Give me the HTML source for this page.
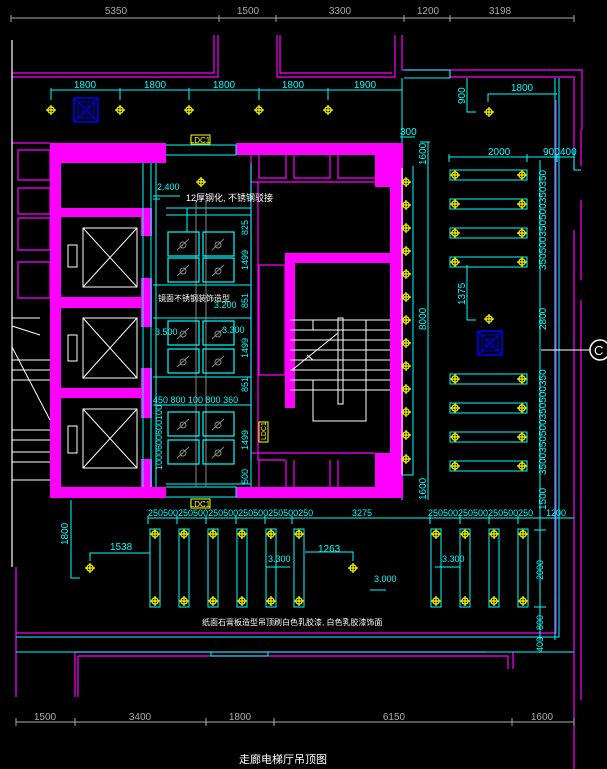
<!DOCTYPE html>
<html><head><meta charset="utf-8"><style>
html,body{margin:0;padding:0;background:#000;width:607px;height:769px;overflow:hidden}
svg{display:block}
text{font-family:"Liberation Sans","Noto Sans CJK SC",sans-serif}
</style></head><body>
<svg width="607" height="769" viewBox="0 0 607 769" xmlns="http://www.w3.org/2000/svg">
<defs>
<g id="lt"><circle r="3.2" fill="none" stroke="#ff0" stroke-width="1.2"/><path d="M-5 0H5M0-5V5" stroke="#ff0" stroke-width="1.2"/></g>
<g id="bsq"><rect x="0" y="0" width="24" height="24" fill="none" stroke="#00f" stroke-width="1.5"/><rect x="4" y="4" width="16" height="16" fill="none" stroke="#00f"/><rect x="8" y="8" width="8" height="8" fill="none" stroke="#00f"/><path d="M0 0L24 24M24 0L0 24" stroke="#00f"/></g>
<g id="pn"><rect x="0" y="0" width="31" height="24" fill="none" stroke="#0ff" stroke-width="1.2"/><circle cx="15" cy="13" r="3" fill="none" stroke="#888"/><path d="M9 18L21 7" stroke="#888"/></g>
</defs>
<g stroke="#aaa" fill="none"><path d="M11 18H574M11 15V22M219 15V22M276 15V22M404 15V22M450 15V22M574 15V22"/></g>
<g fill="#aaa" font-size="10" text-anchor="middle"><text x="116" y="14">5350</text><text x="248" y="14">1500</text><text x="340" y="14">3300</text><text x="428" y="14">1200</text><text x="500" y="14">3198</text></g>
<g stroke="#f0f" fill="none" stroke-width="1.2">
<path d="M214 35V73H12M218 35V77H12"/>
<path d="M277 35V77H395V35M280 35V73H392"/>
<path d="M402 35V70H582V130"/>
<path d="M450 70V77H574V150"/>
<path d="M12 143H50M574 150V170M574 230V769"/>
<path d="M581 130V166M581 200V280M581 300V700"/>
<path d="M16 633H556V100M16 567V697"/>
<path d="M75 652H486M78 656H508V669M75 652V697M78 656V697M513 652V669"/>
<path d="M18 150H50V180H18ZM18 188H50V214H18ZM18 218H50V250H18ZM18 262H50V298H18Z"/>
</g>
<path d="M12 40V567" stroke="#fff" stroke-width="1.2"/>
<g stroke="#0ff" fill="none">
<path d="M404 70H450V78H404M402 78V500"/>
<path d="M16 637H559V78M16 652H574M211 652V656H268V652"/>
<path d="M555 78V640M574 150V170H581"/>
</g>
<g stroke="#0ff" fill="none"><path d="M51 90H402M51 88V100M120 88V100M189 88V100M259 88V100M328 88V100"/></g>
<g fill="#0ff" font-size="10" text-anchor="middle"><text x="85" y="88">1800</text><text x="155" y="88">1800</text><text x="224" y="88">1800</text><text x="293" y="88">1800</text><text x="365" y="88">1900</text></g>
<use href="#lt" x="51" y="110"/><use href="#lt" x="120" y="110"/><use href="#lt" x="189" y="110"/><use href="#lt" x="259" y="110"/><use href="#lt" x="328" y="110"/>
<use href="#bsq" x="74" y="98"/>
<path d="M467 78V112H476M488 102V94H557" stroke="#0ff" fill="none"/>
<text x="0" y="0" fill="#0ff" font-size="10" transform="translate(465,104) rotate(-90)">900</text>
<text x="522" y="91" fill="#0ff" font-size="10" text-anchor="middle">1800</text>
<use href="#lt" x="489" y="112"/>
<rect x="191" y="135" width="19" height="9" fill="none" stroke="#ff0"/><text x="200" y="143" fill="#ff0" font-size="8" text-anchor="middle">LDC1</text>
<g fill="#f0f">
<rect x="50" y="143" width="116" height="20"/><rect x="236" y="143" width="167" height="12"/>
<rect x="50" y="143" width="11" height="355"/>
<rect x="50" y="208" width="101" height="9"/><rect x="50" y="297" width="101" height="11"/><rect x="50" y="388" width="101" height="10"/>
<rect x="141" y="208" width="11" height="28"/><rect x="141" y="278" width="11" height="49"/><rect x="141" y="368" width="11" height="50"/><rect x="141" y="459" width="11" height="39"/>
<rect x="50" y="487" width="116" height="11"/><rect x="236" y="487" width="167" height="11"/>
<rect x="375" y="143" width="28" height="44"/><rect x="390" y="187" width="13" height="310"/>
<rect x="285" y="253" width="10" height="155"/><rect x="285" y="253" width="118" height="10"/>
<rect x="375" y="453" width="28" height="44"/>
</g>
<g stroke="#0ff" fill="none"><path d="M166 145H236V155H166M166 487H236V497H166"/></g>
<rect x="191" y="499" width="19" height="9" fill="none" stroke="#ff0"/><text x="200" y="507" fill="#ff0" font-size="8" text-anchor="middle">LDC1</text>
<g stroke="#f0f" fill="none" stroke-width="1.2">
<path d="M251 155V182H375M259 155V178H286V155M294 155V178H330V155M338 155V178H375"/>
<path d="M251 182V460M258 182V460H285M259 265H285V375H259Z"/>
<path d="M251 453H375M259 460V487M286 460V487M294 460V487M330 460V487M338 460V487"/>
</g>
<g stroke="#fff" fill="none">
<rect x="83" y="228" width="54" height="59"/><path d="M83 228L137 287M137 228L83 287"/>
<rect x="83" y="318" width="54" height="60"/><path d="M83 318L137 378M137 318L83 378"/>
<rect x="83" y="409" width="54" height="59"/><path d="M83 409L137 468M137 409L83 468"/>
<rect x="68" y="245" width="9" height="22"/><rect x="68" y="335" width="9" height="26"/><rect x="68" y="426" width="9" height="27"/>
</g>
<g stroke="#0ff" fill="none">
<path d="M143 163V487M151 163V487M156 163V487M251 163V487M166 208H251M166 215H251M153 285H251M153 318H251M153 377H251M153 405H251M166 484H251"/>
<path d="M187 208V232M153 196H180M153 199H160"/>
</g>
<path d="M196 200V487M206 200V487" stroke="#888"/>
<use href="#pn" x="168" y="232"/><use href="#pn" x="203" y="232"/>
<use href="#pn" x="168" y="258"/><use href="#pn" x="203" y="258"/>
<use href="#pn" x="168" y="321"/><use href="#pn" x="203" y="321"/>
<use href="#pn" x="168" y="349"/><use href="#pn" x="203" y="349"/>
<use href="#pn" x="168" y="412"/><use href="#pn" x="203" y="412"/>
<use href="#pn" x="168" y="440"/><use href="#pn" x="203" y="440"/>
<use href="#lt" x="201" y="182"/>
<text x="157" y="190" fill="#0ff" font-size="9">2.400</text>
<text x="186" y="201" fill="#fff" font-size="9">12厚钢化, 不锈钢驳接</text>
<text x="158" y="301" fill="#fff" font-size="8">镜面不锈钢装饰造型</text>
<text x="214" y="308" fill="#0ff" font-size="9">3.200</text>
<text x="155" y="335" fill="#0ff" font-size="9">3.500</text>
<text x="222" y="333" fill="#0ff" font-size="9">3.300</text>
<text x="153" y="403" fill="#0ff" font-size="9">450  800 100  800  360</text>
<g fill="#0ff" font-size="9">
<text transform="translate(248,235) rotate(-90)">825</text>
<text transform="translate(248,270) rotate(-90)">1499</text>
<text transform="translate(248,308) rotate(-90)">851</text>
<text transform="translate(248,358) rotate(-90)">1499</text>
<text transform="translate(248,392) rotate(-90)">851</text>
<text transform="translate(248,450) rotate(-90)">1499</text>
<text transform="translate(248,484) rotate(-90)">500</text>
<text transform="translate(162,470) rotate(-90)">1000600600100</text>
</g>
<rect x="259" y="422" width="9" height="20" fill="none" stroke="#ff0"/><text transform="translate(266,440) rotate(-90)" fill="#ff0" font-size="7">LDC1</text>
<g stroke="#fff" fill="none">
<path d="M290 320H390M290 330H390M290 340H390M290 350H390M290 360H390M290 370H390M290 380H390M290 390H390"/>
<path d="M313 320V330M313 380V421H366V320"/>
<rect x="338" y="318" width="5" height="86"/>
<path d="M292 370L338 333M307 355L313 360"/>
<path d="M12 318H40M12 326L40 335M12 400V420M12 347L50 420M12 360H50M12 370H50M12 380H50M12 430H50M12 440H50M12 452H50M12 462H50M12 480H50"/>
</g>
<path d="M402 168V475" stroke="#fff"/>
<g><use href="#lt" x="406" y="182"/><use href="#lt" x="406" y="205"/><use href="#lt" x="406" y="228"/><use href="#lt" x="406" y="251"/><use href="#lt" x="406" y="274"/><use href="#lt" x="406" y="297"/><use href="#lt" x="406" y="320"/><use href="#lt" x="406" y="343"/><use href="#lt" x="406" y="366"/><use href="#lt" x="406" y="389"/><use href="#lt" x="406" y="412"/><use href="#lt" x="406" y="435"/><use href="#lt" x="406" y="459"/></g>
<g stroke="#0ff" fill="none"><path d="M413 166V475H402M428 142V500M400 137H415M420 142H430"/></g>
<g fill="#0ff" font-size="10">
<text x="400" y="135">300</text>
<text transform="translate(426,165) rotate(-90)">1600</text>
<text transform="translate(426,330) rotate(-90)">8000</text>
<text transform="translate(426,500) rotate(-90)">1600</text>
</g>
<g stroke="#0ff" fill="none"><path d="M449 157H574M449 154V162M527 154V162M557 154V162M540 160V640M467 265V320H476"/></g>
<g fill="#0ff" font-size="10"><text x="488" y="155">2000</text><text x="543" y="155">900</text><text x="560" y="155">400</text>
<text transform="translate(546,270) rotate(-90)">350500350500350350</text>
<text transform="translate(546,330) rotate(-90)">2800</text>
<text transform="translate(546,475) rotate(-90)">3500350500350500350</text>
<text transform="translate(546,510) rotate(-90)">1500</text>
<text transform="translate(465,305) rotate(-90)">1375</text></g>
<g stroke="#0ff" fill="none">
<rect x="450" y="170" width="77" height="10"/><rect x="450" y="199" width="77" height="10"/><rect x="450" y="228" width="77" height="10"/><rect x="450" y="257" width="77" height="10"/>
<rect x="450" y="374" width="77" height="10"/><rect x="450" y="403" width="77" height="10"/><rect x="450" y="432" width="77" height="10"/><rect x="450" y="461" width="77" height="10"/>
</g>
<g>
<use href="#lt" x="455" y="175"/><use href="#lt" x="522" y="175"/><use href="#lt" x="455" y="204"/><use href="#lt" x="522" y="204"/>
<use href="#lt" x="455" y="233"/><use href="#lt" x="522" y="233"/><use href="#lt" x="455" y="262"/><use href="#lt" x="522" y="262"/>
<use href="#lt" x="455" y="379"/><use href="#lt" x="522" y="379"/><use href="#lt" x="455" y="408"/><use href="#lt" x="522" y="408"/>
<use href="#lt" x="455" y="437"/><use href="#lt" x="522" y="437"/><use href="#lt" x="455" y="466"/><use href="#lt" x="522" y="466"/>
<use href="#lt" x="489" y="319"/>
</g>
<use href="#bsq" x="478" y="331"/>
<path d="M541 350H590" stroke="#fff"/><circle cx="600" cy="350" r="10" fill="none" stroke="#fff" stroke-width="1.5"/><text x="594" y="355" fill="#fff" font-size="13">C</text>
<g stroke="#0ff" fill="none"><path d="M148 518H574M148 516V524M177 516V524M206 516V524M236 516V524M265 516V524M292 516V524M430 516V524M460 516V524M489 516V524M518 516V524M71 500V578H80M90 561V553H150M305 552H353V561M534 530H546M534 607H546"/></g>
<g fill="#0ff" font-size="9"><text x="148" y="516">250500250500250500250500250500250</text><text x="352" y="516">3275</text><text x="428" y="516">250500250500250500250</text><text x="546" y="516">1200</text>
<text x="110" y="550" font-size="10">1538</text><text x="318" y="552" font-size="10">1263</text>
<text x="268" y="562">3.300</text><text x="442" y="562">3.300</text><text x="374" y="582">3.000</text>
<text transform="translate(68,545) rotate(-90)" font-size="10">1800</text>
<text transform="translate(543,580) rotate(-90)">2000</text>
<text transform="translate(543,630) rotate(-90)">800</text>
<text transform="translate(543,652) rotate(-90)">400</text></g>
<g stroke="#0ff" fill="none">
<rect x="150" y="529" width="10" height="78"/><rect x="179" y="529" width="10" height="78"/><rect x="208" y="529" width="10" height="78"/><rect x="237" y="529" width="10" height="78"/><rect x="266" y="529" width="10" height="78"/><rect x="294" y="529" width="10" height="78"/>
<rect x="431" y="529" width="10" height="78"/><rect x="460" y="529" width="10" height="78"/><rect x="489" y="529" width="10" height="78"/><rect x="518" y="529" width="10" height="78"/>
<path d="M266 567H290M435 567H460M370 590H386"/>
</g>
<g>
<use href="#lt" x="155" y="534"/><use href="#lt" x="155" y="601"/><use href="#lt" x="184" y="534"/><use href="#lt" x="184" y="601"/><use href="#lt" x="213" y="534"/><use href="#lt" x="213" y="601"/><use href="#lt" x="242" y="534"/><use href="#lt" x="242" y="601"/><use href="#lt" x="271" y="534"/><use href="#lt" x="271" y="601"/><use href="#lt" x="299" y="534"/><use href="#lt" x="299" y="601"/>
<use href="#lt" x="436" y="534"/><use href="#lt" x="436" y="601"/><use href="#lt" x="465" y="534"/><use href="#lt" x="465" y="601"/><use href="#lt" x="494" y="534"/><use href="#lt" x="494" y="601"/><use href="#lt" x="523" y="534"/><use href="#lt" x="523" y="601"/>
<use href="#lt" x="90" y="568"/><use href="#lt" x="353" y="568"/>
</g>
<text x="202" y="625" fill="#fff" font-size="8">纸面石膏板造型吊顶刷白色乳胶漆, 白色乳胶漆饰面</text>
<g stroke="#aaa" fill="none"><path d="M16 722H574M16 718V726M75 718V726M206 718V726M274 718V726M512 718V726M574 718V726"/></g>
<g fill="#aaa" font-size="10" text-anchor="middle"><text x="45" y="720">1500</text><text x="140" y="720">3400</text><text x="240" y="720">1800</text><text x="394" y="720">6150</text><text x="542" y="720">1600</text></g>
<text x="283" y="763" fill="#fff" font-size="11" text-anchor="middle">走廊电梯厅吊顶图</text>
</svg>
</body></html>
